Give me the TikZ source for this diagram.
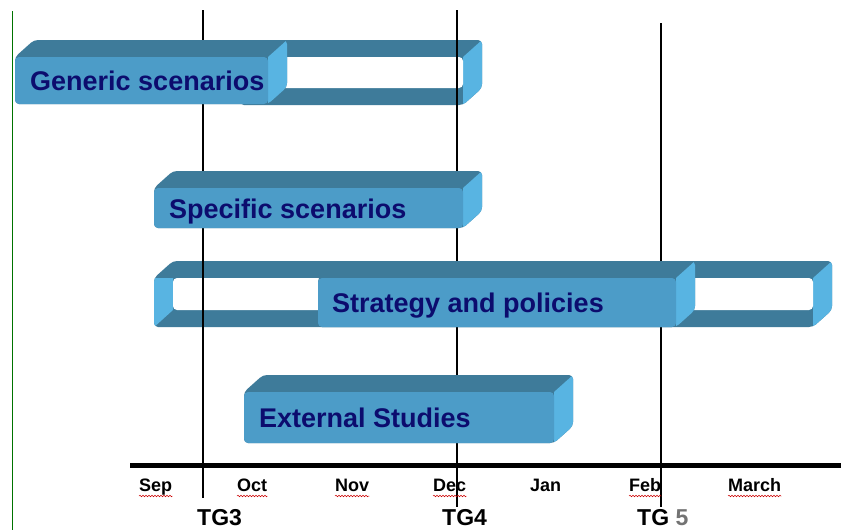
\documentclass[tikz,border=0pt]{standalone}
\usepackage{fontspec}
\setmainfont{Liberation Sans}
\usetikzlibrary{decorations.pathmorphing}
\definecolor{frontc}{HTML}{4C9CC8}
\definecolor{topc}{HTML}{3E7B9A}
\definecolor{sidec}{HTML}{58B4E2}
\definecolor{txtc}{HTML}{0C0C6E}
\def\dx{19}
\def\dy{17}
% solid 3D bar: x0, x1, ytop(front), ybottom(front)
\newcommand\solidbar[4]{%
  \begin{scope}
    \clip[rounded corners=4] (#1,#4) -- (#1,#3) -- ({#1+\dx},{#3-\dy}) -- ({#2+\dx},{#3-\dy}) -- ({#2+\dx},{#4-\dy}) -- (#2,#4) -- cycle;
    \fill[topc] (#1-2,#4+2) rectangle ({#2+\dx+2},{#3-\dy-2});
    \fill[sidec] (#2,#3) -- ({#2+\dx},{#3-\dy}) -- ({#2+\dx+3},{#3-\dy}) -- ({#2+\dx+3},{#4-\dy}) -- (#2,#4+3) -- cycle;
  \end{scope}
  \fill[frontc, rounded corners=4] (#1,#3) rectangle (#2,#4);
}
% hollow 3D frame
\newcommand\framebar[4]{%
  \begin{scope}
    \clip[rounded corners=4] (#1,#4) -- (#1,#3) -- ({#1+\dx},{#3-\dy}) -- ({#2+\dx},{#3-\dy}) -- ({#2+\dx},{#4-\dy}) -- (#2,#4) -- cycle;
    \fill[topc] (#1-2,#4+2) rectangle ({#2+\dx+2},{#3-\dy-2});
    \fill[sidec] (#1-2,#3) -- ({#1+\dx},#3) -- ({#1+\dx},{#4-\dy}) -- (#1-2,#4+2) -- cycle;
    \fill[sidec] (#2,#3) -- ({#2+\dx},{#3-\dy}) -- ({#2+\dx+3},{#3-\dy}) -- ({#2+\dx+3},{#4-\dy}) -- (#2,#4+3) -- cycle;
    \fill[white, rounded corners=4] ({#1+\dx},#3) rectangle (#2,{#4-\dy});
  \end{scope}
}
\begin{document}
\begin{tikzpicture}[x=1pt,y=-1pt,
  bartext/.style={anchor=base west, inner sep=0, text=txtc, font=\fontsize{27}{27}\selectfont\bfseries},
  month/.style={anchor=base west, inner sep=0, text=black, font=\fontsize{18}{18}\selectfont\bfseries},
  tglabel/.style={anchor=base west, inner sep=0, text=black, font=\fontsize{23}{23}\selectfont\bfseries},
  gateline/.style={black, line width=1.4pt},
  squiggle/.style={red!80!black, line width=0.5pt, decorate, decoration={snake, amplitude=0.8pt, segment length=3pt}}]
\useasboundingbox (0,0) rectangle (841,530);
\fill[white] (0,0) rectangle (841,530);

% left green margin line
\coordinate (gtop) at (12,11);
\coordinate (gbot) at (12,530);
\draw[green!45!black, line width=1pt] (gtop) -- (gbot);

% hollow frames (behind the gate lines)
\framebar{240}{463}{57}{105}
\framebar{154}{813}{278}{327}

% gate lines
\coordinate (tg3top) at (203,10);
\coordinate (tg3bot) at (203,498);
\coordinate (tg4top) at (457,10);
\coordinate (tg4bot) at (457,507);
\coordinate (tg5top) at (661,23);
\coordinate (tg5bot) at (661,507);
\draw[gateline] (tg3top) -- (tg3bot);
\draw[gateline] (tg4top) -- (tg4bot);
\draw[gateline] (tg5top) -- (tg5bot);

% solid bars (in front of the gate lines)
\solidbar{15}{268}{57}{104}
\solidbar{154}{463}{188}{228}
\solidbar{318}{676}{278}{327}
\solidbar{244}{554}{392}{443}

\node[bartext] (generic) at (30,90) {Generic scenarios};
\node[bartext] (specific) at (169,218) {Specific scenarios};
\node[bartext] (strategy) at (332,312) {Strategy and policies};
\node[bartext] (external) at (259,427) {External Studies};

% time axis
\coordinate (axl) at (130,465.5);
\coordinate (axr) at (841,465.5);
\draw[black, line width=5pt] (axl) -- (axr);

\node[month] (sep) at (139,491) {Sep};
\node[month] (oct) at (237,491) {Oct};
\node[month] (nov) at (335,491) {Nov};
\node[month] (dec) at (433,491) {Dec};
\node[month] (jan) at (530,491) {Jan};
\node[month] (feb) at (629,491) {Feb};
\node[month] (mar) at (728,491) {March};

\foreach \m in {sep,oct,nov,dec,feb,mar}
  \draw[squiggle] ([yshift=-5pt]\m.base west) -- ([yshift=-5pt]\m.base east);

\node[tglabel] (tg3) at (197,525) {TG3};
\node[tglabel] (tg4) at (442,525) {TG4};
\node[tglabel] (tg5) at (637,525) {TG {\color{black!55}5}};
\end{tikzpicture}
\end{document}
